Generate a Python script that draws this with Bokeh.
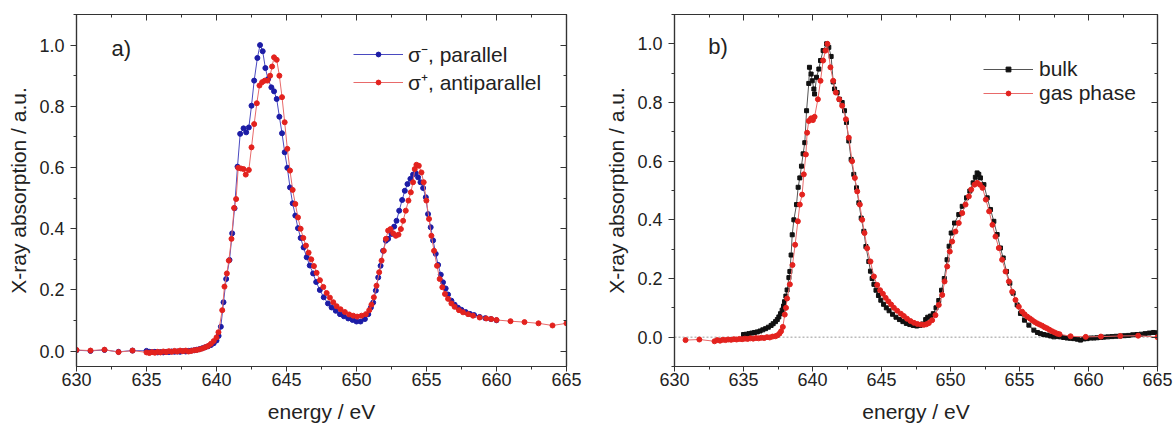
from bokeh.plotting import figure
from bokeh.layouts import row
from bokeh.models import (LinearAxis, SingleIntervalTicker, PrintfTickFormatter, Range1d,
                          Legend, LegendItem, Span, Label)
from bokeh.embed import file_html
from bokeh.resources import INLINE

# ---------------- data: panel a) ----------------
energy_parallel = [630.0, 631.0, 632.0, 633.0, 634.0,
    635.0, 635.2, 635.4, 635.6, 635.8, 636.0, 636.2, 636.4, 636.6, 636.8,
    637.0, 637.2, 637.4, 637.6, 637.8, 638.0, 638.2, 638.4, 638.6, 638.8,
    639.0, 639.2, 639.4, 639.6, 639.8, 640.0,
    640.15, 640.31, 640.5, 640.69, 640.93, 641.12, 641.29, 641.5, 641.69, 641.93,
    642.12, 642.31, 642.5, 642.69, 642.92, 643.11, 643.3, 643.49, 643.68, 643.92,
    644.11, 644.3, 644.49, 644.68, 644.87, 645.06, 645.25, 645.44, 645.63, 645.82,
    646.01, 646.22, 646.44, 646.66, 646.9, 647.12, 647.38, 647.66, 647.96, 648.22,
    648.52, 648.82, 649.1, 649.41, 649.72, 650.0, 650.29, 650.6, 650.84, 651.03,
    651.19, 651.38, 651.55, 651.72, 651.9, 652.1, 652.26, 652.5, 652.69, 652.86,
    653.05, 653.26, 653.45, 653.64, 653.85, 654.04, 654.23, 654.4, 654.57, 654.76,
    654.95, 655.11, 655.3, 655.47, 655.66, 655.83, 656.02, 656.18, 656.37, 656.54,
    656.78, 657.01, 657.25, 657.5, 657.8, 658.1, 658.4, 658.8, 659.2, 659.6, 660.0]
xas_parallel = [0.003, 0.001, 0.004, -0.002, 0.002,
    0.001, -0.002, -0.003, -0.002, -0.004, -0.003, -0.004, -0.002, -0.003, -0.001,
    -0.002, -0.001, -0.002, 0.000, -0.001, 0.001, 0.002, 0.003, 0.005, 0.007,
    0.010, 0.013, 0.016, 0.020, 0.026, 0.035,
    0.050, 0.080, 0.160, 0.236, 0.298, 0.385, 0.467, 0.603, 0.710, 0.728,
    0.715, 0.731, 0.802, 0.884, 0.958, 1.000, 0.980, 0.925, 0.889, 0.862,
    0.849, 0.824, 0.766, 0.712, 0.650, 0.599, 0.535, 0.483, 0.443, 0.402,
    0.370, 0.339, 0.307, 0.280, 0.254, 0.226, 0.200, 0.176, 0.156, 0.143,
    0.132, 0.121, 0.114, 0.107, 0.102, 0.097, 0.097, 0.105, 0.121, 0.143,
    0.159, 0.198, 0.241, 0.279, 0.328, 0.361, 0.367, 0.383, 0.407, 0.426,
    0.459, 0.494, 0.524, 0.546, 0.563, 0.577, 0.582, 0.568, 0.552, 0.533,
    0.503, 0.448, 0.405, 0.362, 0.318, 0.282, 0.250, 0.225, 0.205, 0.185,
    0.165, 0.152, 0.142, 0.135, 0.128, 0.122, 0.118, 0.112, 0.108, 0.105, 0.101]

energy_antiparallel = [630.0, 631.0, 632.0, 633.0, 634.0,
    635.0, 635.2, 635.4, 635.6, 635.8, 636.0, 636.2, 636.4, 636.6, 636.8,
    637.0, 637.2, 637.4, 637.6, 637.8, 638.0, 638.2, 638.4, 638.6, 638.8,
    639.0, 639.2, 639.4, 639.6, 639.8, 640.0,
    640.14, 640.41, 640.57, 640.74, 640.88, 641.07, 641.26, 641.4, 641.55, 641.74,
    641.93, 642.09, 642.31, 642.5, 642.69, 642.88, 643.07, 643.26, 643.45, 643.64,
    643.83, 643.97, 644.11, 644.3, 644.49, 644.68, 644.87, 645.06, 645.25, 645.44,
    645.63, 645.82, 646.01, 646.2, 646.39, 646.58, 646.77, 646.96, 647.15, 647.39,
    647.63, 647.87, 648.1, 648.34, 648.58, 648.86, 649.17, 649.48, 649.77, 650.05,
    650.36, 650.67, 650.91, 651.07, 651.24, 651.43, 651.62, 651.79, 651.95, 652.1,
    652.26, 652.43, 652.62, 652.81, 653.0, 653.17, 653.33, 653.52, 653.71, 653.88,
    654.04, 654.16, 654.28, 654.45, 654.64, 654.8, 654.99, 655.18, 655.35, 655.54,
    655.75, 655.94, 656.13, 656.32, 656.54, 656.78, 657.01, 657.32, 657.61, 657.97,
    658.32, 658.8, 659.27, 659.63, 660.0, 661.0, 662.0, 663.0, 664.0, 665.0]
xas_antiparallel = [0.004, 0.002, 0.005, -0.003, 0.002,
    -0.004, -0.006, -0.003, -0.005, -0.002, -0.004, -0.001, -0.003, 0.000, -0.002,
    0.001, -0.001, 0.002, 0.000, 0.002, -0.001, 0.001, 0.003, 0.004, 0.006,
    0.009, 0.013, 0.017, 0.024, 0.033, 0.045,
    0.062, 0.134, 0.211, 0.254, 0.296, 0.367, 0.468, 0.497, 0.599, 0.597,
    0.595, 0.577, 0.592, 0.666, 0.742, 0.810, 0.868, 0.879, 0.884, 0.884,
    0.900, 0.930, 0.960, 0.952, 0.900, 0.830, 0.748, 0.661, 0.590, 0.527,
    0.481, 0.437, 0.400, 0.370, 0.345, 0.322, 0.300, 0.278, 0.256, 0.232,
    0.210, 0.190, 0.175, 0.160, 0.147, 0.137, 0.128, 0.120, 0.116, 0.113,
    0.116, 0.121, 0.134, 0.152, 0.176, 0.214, 0.258, 0.296, 0.328, 0.367,
    0.394, 0.399, 0.385, 0.377, 0.381, 0.399, 0.426, 0.459, 0.492, 0.519,
    0.552, 0.595, 0.609, 0.606, 0.584, 0.552, 0.492, 0.432, 0.377, 0.328,
    0.279, 0.236, 0.209, 0.187, 0.171, 0.156, 0.145, 0.134, 0.127, 0.121,
    0.116, 0.110, 0.107, 0.105, 0.102, 0.098, 0.095, 0.091, 0.084, 0.091]

# ---------------- data: panel b) ----------------
energy_bulk = [635.0, 635.2, 635.4, 635.6, 635.8, 636.0, 636.2, 636.4, 636.6, 636.8,
    637.0, 637.15, 637.32, 637.45, 637.56, 637.68, 637.8, 637.9, 637.97, 638.07,
    638.16, 638.29, 638.36, 638.45, 638.53, 638.65, 638.84, 638.96, 639.08, 639.2,
    639.32, 639.44, 639.57, 639.73, 639.78, 639.9, 639.98, 640.1, 640.15, 640.29,
    640.46, 640.58, 640.77, 641.02, 641.18, 641.35, 641.5, 641.6, 641.79, 641.96,
    642.15, 642.32, 642.46, 642.63, 642.8, 642.99, 643.19, 643.36, 643.53, 643.72,
    643.87, 644.08, 644.2, 644.32, 644.45, 644.6, 644.78, 644.95, 645.15, 645.35,
    645.55, 645.8, 646.05, 646.3, 646.55, 646.8, 647.05, 647.3, 647.55, 647.8,
    648.0, 648.2, 648.35, 648.55, 648.75, 648.95, 649.15, 649.35, 649.55, 649.75,
    649.9, 650.05, 650.29, 650.6, 650.85, 651.16, 651.4, 651.64, 651.8, 651.93,
    652.05, 652.17, 652.42, 652.66, 652.9, 653.14, 653.38, 653.62, 653.82, 654.06,
    654.3, 654.54, 654.83, 655.07, 655.36, 655.68, 656.04, 656.3, 656.52, 656.75,
    657.0, 657.25, 657.49, 657.75, 657.97, 658.2, 658.45, 658.7, 658.94, 659.2,
    659.42, 659.66, 659.9, 660.15, 660.39, 660.63, 660.87, 661.1, 661.4, 661.7,
    662.0, 662.3, 662.6, 662.9, 663.2, 663.5, 663.8, 664.1, 664.4, 664.7, 665.0]
xas_bulk = [0.009, 0.010, 0.012, 0.014, 0.016, 0.018, 0.021, 0.025, 0.029, 0.034,
    0.040, 0.046, 0.053, 0.060, 0.069, 0.080, 0.092, 0.106, 0.121, 0.140,
    0.161, 0.203, 0.224, 0.280, 0.349, 0.400, 0.452, 0.511, 0.543, 0.583,
    0.625, 0.663, 0.772, 0.865, 0.920, 0.897, 0.874, 0.846, 0.829, 0.886,
    0.914, 0.943, 0.977, 1.000, 0.988, 0.957, 0.870, 0.846, 0.834, 0.811,
    0.800, 0.772, 0.732, 0.669, 0.606, 0.555, 0.509, 0.458, 0.406, 0.361,
    0.309, 0.258, 0.225, 0.200, 0.180, 0.160, 0.142, 0.126, 0.112, 0.100,
    0.090, 0.078, 0.068, 0.060, 0.053, 0.047, 0.043, 0.040, 0.038, 0.040,
    0.045, 0.060, 0.068, 0.072, 0.080, 0.100, 0.125, 0.160, 0.200, 0.264,
    0.310, 0.355, 0.389, 0.418, 0.446, 0.475, 0.498, 0.526, 0.545, 0.560,
    0.555, 0.543, 0.520, 0.475, 0.435, 0.395, 0.350, 0.304, 0.270, 0.224,
    0.184, 0.150, 0.110, 0.081, 0.058, 0.041, 0.024, 0.016, 0.012, 0.009,
    0.007, 0.004, 0.001, 0.002, 0.001, -0.001, -0.003, -0.004, -0.005, -0.007,
    -0.010, -0.006, -0.005, -0.003, -0.003, -0.002, -0.001, 0.000, 0.001, 0.002,
    0.003, 0.004, 0.005, 0.006, 0.008, 0.009, 0.010, 0.012, 0.014, 0.016, 0.015]

energy_gas = [630.8, 631.8, 632.9, 633.1, 633.3, 633.5, 633.7, 633.9, 634.1, 634.3,
    634.5, 634.7, 634.9, 635.1, 635.3, 635.5, 635.7, 635.9, 636.1, 636.3,
    636.5, 636.7, 636.9, 637.1, 637.3, 637.45, 637.6, 637.72, 637.85, 637.99,
    638.08, 638.16, 638.36, 638.55, 638.74, 638.94, 639.08, 639.25, 639.37, 639.52,
    639.61, 639.73, 639.9, 640.03, 640.15, 640.39, 640.58, 640.77, 640.94, 641.08,
    641.3, 641.5, 641.69, 641.93, 642.15, 642.42, 642.63, 642.87, 643.07, 643.24,
    643.43, 643.6, 643.77, 643.96, 644.2, 644.45, 644.69, 644.9, 645.1, 645.3,
    645.5, 645.7, 645.9, 646.14, 646.4, 646.62, 646.85, 647.1, 647.35, 647.6,
    647.85, 648.07, 648.25, 648.43, 648.67, 648.91, 649.15, 649.4, 649.57, 649.76,
    649.95, 650.12, 650.36, 650.6, 650.85, 651.09, 651.33, 651.5, 651.74, 651.93,
    652.13, 652.32, 652.56, 652.8, 653.04, 653.26, 653.5, 653.74, 653.99, 654.23,
    654.47, 654.71, 654.95, 655.19, 655.37, 655.56, 655.75, 655.92, 656.1, 656.28,
    656.46, 656.64, 656.82, 657.0, 657.18, 657.37, 657.55, 657.73, 657.9, 658.7,
    659.8, 660.9, 662.3, 663.6, 665.0]
xas_gas = [-0.010, -0.008, -0.014, -0.010, -0.012, -0.009, -0.010, -0.008, -0.009, -0.007,
    -0.008, -0.006, -0.007, -0.005, -0.006, -0.004, -0.005, -0.003, -0.004, -0.002,
    -0.003, 0.000, -0.001, 0.002, 0.003, 0.006, 0.012, 0.020, 0.035, 0.077,
    0.100, 0.132, 0.180, 0.246, 0.315, 0.395, 0.452, 0.486, 0.555, 0.623,
    0.697, 0.737, 0.746, 0.740, 0.751, 0.811, 0.874, 0.943, 0.977, 1.000,
    0.920, 0.874, 0.834, 0.811, 0.789, 0.743, 0.680, 0.600, 0.543, 0.497,
    0.452, 0.400, 0.355, 0.303, 0.258, 0.207, 0.178, 0.160, 0.148, 0.134,
    0.122, 0.111, 0.100, 0.090, 0.080, 0.072, 0.063, 0.055, 0.049, 0.045,
    0.043, 0.042, 0.044, 0.048, 0.058, 0.075, 0.110, 0.144, 0.190, 0.241,
    0.292, 0.326, 0.360, 0.389, 0.423, 0.452, 0.480, 0.503, 0.520, 0.526,
    0.520, 0.509, 0.469, 0.429, 0.383, 0.343, 0.304, 0.264, 0.224, 0.190,
    0.155, 0.127, 0.104, 0.087, 0.078, 0.070, 0.064, 0.058, 0.052, 0.047,
    0.043, 0.039, 0.034, 0.030, 0.025, 0.020, 0.016, 0.012, 0.010, 0.003,
    0.001, 0.002, 0.004, 0.005, 0.000]

label_parallel = "σ⁻, parallel"
label_antiparallel = "σ⁺, antiparallel"
label_bulk = "bulk"
label_gas = "gas phase"
x_label = "energy / eV"
y_label = "X-ray absorption / a.u."

FONT = "Liberation Sans"
AX = "#333333"
TXT = "#222222"


def make_panel(width, bl, br, y0, y1):
    p = figure(width=width, height=432, output_backend="svg", toolbar_location=None,
               x_range=Range1d(630, 665), y_range=Range1d(y0, y1),
               min_border_left=bl, min_border_right=br, min_border_top=14, min_border_bottom=66)
    p.xgrid.visible = False
    p.ygrid.visible = False
    p.outline_line_color = AX
    p.outline_line_width = 1.2
    p.background_fill_color = "white"
    p.border_fill_color = "white"

    xt = SingleIntervalTicker(interval=5, num_minor_ticks=2)
    yt = SingleIntervalTicker(interval=0.2, num_minor_ticks=2)
    xa = p.xaxis[0]
    ya = p.yaxis[0]
    xa.ticker = xt
    ya.ticker = yt
    ya.formatter = PrintfTickFormatter(format="%.1f")
    xa.axis_label = x_label
    ya.axis_label = y_label
    for a in (xa, ya):
        a.axis_line_color = AX
        a.axis_line_width = 1.2
        a.major_tick_line_color = AX
        a.minor_tick_line_color = AX
        a.major_tick_out = 6
        a.major_tick_in = 0
        a.minor_tick_out = 3
        a.minor_tick_in = 0
        a.major_label_text_font = FONT
        a.major_label_text_font_size = "18px"
        a.major_label_text_color = TXT
        a.axis_label_text_font = FONT
        a.axis_label_text_font_size = "21px"
        a.axis_label_text_font_style = "normal"
        a.axis_label_text_color = TXT
    xa.major_tick_out = 5
    xa.major_label_standoff = 1
    xa.axis_label_standoff = 11
    ya.major_label_standoff = 6
    ya.axis_label_standoff = 6

    for loc, tk in (("above", xt), ("right", yt)):
        ax = LinearAxis(ticker=tk, axis_line_color=AX, axis_line_width=1.2,
                        major_tick_line_color=AX, minor_tick_line_color=AX,
                        major_tick_in=6, major_tick_out=0, minor_tick_in=3, minor_tick_out=0,
                        major_label_text_font_size="1px", major_label_text_color=None,
                        major_label_standoff=0)
        p.add_layout(ax, loc)
    return p


def legend(items, loc, standoff):
    return Legend(items=items, location=loc, glyph_width=50, glyph_height=12, label_height=22,
                  spacing=0, padding=0, margin=0, label_standoff=standoff,
                  label_text_font=FONT, label_text_font_size="21px", label_text_color=TXT,
                  border_line_alpha=0, background_fill_alpha=0)


# ---------------- panel a ----------------
pa = make_panel(600, 76, 34, -0.05, 1.1)
blue_dot, blue_line = "#1c1ca6", "#4a4ac0"
red_dot, red_line = "#e3221e", "#e86a6a"
lb = pa.line(energy_parallel, xas_parallel, line_color=blue_line, line_width=1)
sb = pa.scatter(energy_parallel, xas_parallel, marker="circle", size=5,
                fill_color=blue_dot, line_color=blue_dot)
lr = pa.line(energy_antiparallel, xas_antiparallel, line_color=red_line, line_width=1)
sr = pa.scatter(energy_antiparallel, xas_antiparallel, marker="circle", size=5,
                fill_color=red_dot, line_color=red_dot)
pa.add_layout(legend([LegendItem(label=label_parallel, renderers=[lb, sb]),
                      LegendItem(label=label_antiparallel, renderers=[lr, sr])],
                     (277, 270), 5))
pa.add_layout(Label(x=632.5, y=0.99, text="a)", text_font=FONT, text_font_size="22px",
                    text_color=TXT, text_baseline="middle"))

# ---------------- panel b ----------------
pb = make_panel(574, 74, 17, -0.1, 1.1)
pb.add_layout(Span(location=0, dimension="width", line_color="#9a9a9a", line_dash="2 2",
                   line_width=1, level="underlay"))
black_dot, black_line = "#111111", "#555555"
lk = pb.line(energy_bulk, xas_bulk, line_color=black_line, line_width=1)
sk = pb.scatter(energy_bulk, xas_bulk, marker="square", size=4,
                fill_color=black_dot, line_color=black_dot)
lg = pb.line(energy_gas, xas_gas, line_color=red_line, line_width=1)
sg = pb.scatter(energy_gas, xas_gas, marker="circle", size=5,
                fill_color=red_dot, line_color=red_dot)
pb.add_layout(legend([LegendItem(label=label_bulk, renderers=[lk, sk]),
                      LegendItem(label=label_gas, renderers=[lg, sg])],
                     (309, 261), 6))
pb.add_layout(Label(x=632.45, y=0.99, text="b)", text_font=FONT, text_font_size="22px",
                    text_color=TXT, text_baseline="middle"))

layout = row(pa, pb)
open("out.html", "w").write(file_html(layout, INLINE))
